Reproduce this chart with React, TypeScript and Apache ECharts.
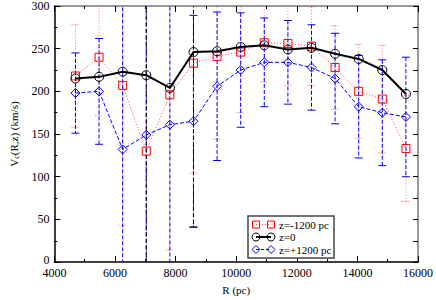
import React, { useEffect, useRef } from "react";
import * as echarts from "echarts";

const R = [4695, 5474, 6253, 7032, 7811, 8590, 9369, 10148, 10927, 11706, 12485, 13264, 14043, 14822, 15601];
const vZ0 = [215, 217, 223, 219, 204, 246, 247, 252, 254, 249, 251, 244, 238, 225, 197];
const vNeg = [218, 240, 207, 130, 196, 233, 241, 246, 257, 256, 253, 228, 200, 191, 133];
const vPos = [198, 200, 132, 149, 161, 165, 206, 225, 234, 234, 228, 215, 182, 175, 170];
const errNeg = [60, 68, 164, 250, 182, 129, 97, 71, 46, 49, 46, 49, 55, 63, 62];
const errPos = [47, 62, 300, 300, 300, 124, 87, 67, 52, 49, 50, 53, 60, 62, 70];
const errZ0 = [0, 0, 0, 300, 0, 205, 0, 0, 0, 0, 0, 0, 0, 0, 0];
const legendLabels = ["z=-1200 pc", "z=0", "z=+1200 pc"];

const FONT = "Liberation Serif";

function errSeries(vals: number[], errs: number[], color: string, dash: number[], capDash: number[] | null, opacity: number) {
  const data = R.map((r, i) => [r, vals[i], errs[i]]).filter((d) => d[2] > 0);
  return {
    type: "custom",
    clip: true,
    silent: true,
    z: 1,
    data,
    renderItem: (params: any, api: any) => {
      const x = api.value(0);
      const y = api.value(1);
      const e = api.value(2);
      const top = api.coord([x, y + e]);
      const bot = api.coord([x, y - e]);
      const style = { stroke: color, lineWidth: 1, lineDash: dash, opacity };
      const capStyle = { stroke: color, lineWidth: 1, lineDash: capDash || undefined, opacity };
      return {
        type: "group",
        children: [
          { type: "line", shape: { x1: top[0], y1: top[1], x2: bot[0], y2: bot[1] }, style },
          { type: "line", shape: { x1: top[0] - 4, y1: top[1], x2: top[0] + 4, y2: top[1] }, style: capStyle },
          { type: "line", shape: { x1: bot[0] - 4, y1: bot[1], x2: bot[0] + 4, y2: bot[1] }, style: capStyle },
        ],
      };
    },
  };
}

export default function App() {
  const ref = useRef<HTMLDivElement>(null);
  useEffect(() => {
    if (!ref.current) return;
    const chart = echarts.init(ref.current, null, { renderer: "svg" });
    const axisCommon = {
      min: 4000,
      max: 16000,
      interval: 2000,
    };
    const yCommon = { min: 0, max: 300, interval: 50 };
    const lx = 248, ly = 216;
    const rowY = [224.5, 237, 249.5];
    const legendGraphics: any[] = [
      { type: "rect", shape: { x: lx, y: ly, width: 86, height: 42 }, style: { fill: "#fff", stroke: "#444", lineWidth: 1.5 }, z: 100 },
      { type: "line", shape: { x1: 256, y1: rowY[0], x2: 271, y2: rowY[0] }, style: { stroke: "#ff0000", lineWidth: 1, lineDash: [1, 2], opacity: 0.7 }, z: 101 },
      { type: "rect", shape: { x: 252.5, y: rowY[0] - 3.5, width: 7, height: 7 }, style: { fill: "none", stroke: "#ff0000", lineWidth: 1 }, z: 102 },
      { type: "rect", shape: { x: 267.5, y: rowY[0] - 3.5, width: 7, height: 7 }, style: { fill: "none", stroke: "#ff0000", lineWidth: 1 }, z: 102 },
      { type: "line", shape: { x1: 256, y1: rowY[1], x2: 271, y2: rowY[1] }, style: { stroke: "#000", lineWidth: 2 }, z: 101 },
      { type: "circle", shape: { cx: 256, cy: rowY[1], r: 4 }, style: { fill: "none", stroke: "#000", lineWidth: 1 }, z: 102 },
      { type: "circle", shape: { cx: 271, cy: rowY[1], r: 4 }, style: { fill: "none", stroke: "#000", lineWidth: 1 }, z: 102 },
      { type: "line", shape: { x1: 256, y1: rowY[2], x2: 271, y2: rowY[2] }, style: { stroke: "#0000ff", lineWidth: 1, lineDash: [3, 2] }, z: 101 },
      { type: "polygon", shape: { points: [[256, rowY[2] - 4], [260, rowY[2]], [256, rowY[2] + 4], [252, rowY[2]]] }, style: { fill: "none", stroke: "#0000ff", lineWidth: 1 }, z: 102 },
      { type: "polygon", shape: { points: [[271, rowY[2] - 4], [275, rowY[2]], [271, rowY[2] + 4], [267, rowY[2]]] }, style: { fill: "none", stroke: "#0000ff", lineWidth: 1 }, z: 102 },
    ];
    legendLabels.forEach((t, i) => {
      legendGraphics.push({
        type: "text",
        x: 279,
        y: rowY[i],
        z: 103,
        style: { text: t, font: `11px "${FONT}"`, fill: "#000", verticalAlign: "middle", align: "left" },
      });
    });

    chart.setOption({
      animation: false,
      backgroundColor: "#fff",
      grid: { left: 36, right: 15, top: 5, bottom: 26, containLabel: false },
      xAxis: [
        {
          type: "value",
          position: "bottom",
          ...axisCommon,
          name: "R (pc)",
          nameLocation: "middle",
          nameGap: 15,
          nameTextStyle: { fontFamily: FONT, fontSize: 11, color: "#000" },
          axisLine: { show: true, onZero: false, lineStyle: { color: "#000", width: 1.5 } },
          axisTick: { show: true, inside: true, length: 6, lineStyle: { color: "#000", width: 1 } },
          minorTick: { show: true, splitNumber: 2, length: 3, lineStyle: { color: "#000", width: 1 } },
          axisLabel: { fontFamily: FONT, fontSize: 12, color: "#000", margin: 5, formatter: (v: number) => String(v) },
          splitLine: { show: false },
        },
        {
          type: "value",
          position: "top",
          ...axisCommon,
          axisLine: { show: true, onZero: false, lineStyle: { color: "#777", width: 1.5 } },
          axisTick: { show: true, inside: true, length: 6, lineStyle: { color: "#000", width: 1 } },
          minorTick: { show: true, splitNumber: 2, length: 3, lineStyle: { color: "#000", width: 1 } },
          axisLabel: { show: false },
          splitLine: { show: false },
        },
      ],
      yAxis: [
        {
          type: "value",
          position: "left",
          ...yCommon,
          name: "{a|V}{b|c}{a|(R,z) (km/s)}",
          nameLocation: "middle",
          nameGap: 24,
          nameTextStyle: {
            rich: {
              a: { fontFamily: FONT, fontSize: 11, color: "#000" },
              b: { fontFamily: FONT, fontSize: 8, color: "#000", padding: [6, 0, 0, 0] },
            },
          },
          axisLine: { show: true, onZero: false, lineStyle: { color: "#000", width: 1.5 } },
          axisTick: { show: true, inside: true, length: 6, lineStyle: { color: "#000", width: 1 } },
          minorTick: { show: true, splitNumber: 2, length: 3, lineStyle: { color: "#000", width: 1 } },
          axisLabel: {
            fontFamily: FONT,
            fontSize: 12,
            color: "#000",
            margin: 5,
            formatter: (v: number) => (v === 0 ? "{z|0}" : String(v)),
            rich: { z: { fontFamily: FONT, fontSize: 12, color: "#000", lineHeight: 10, padding: [0, 0, 5, 0] } },
          },
          splitLine: { show: false },
        },
        {
          type: "value",
          position: "right",
          ...yCommon,
          axisLine: { show: true, onZero: false, lineStyle: { color: "#777", width: 1.5 } },
          axisTick: { show: true, inside: true, length: 5, lineStyle: { color: "#000", width: 1 } },
          minorTick: { show: true, splitNumber: 2, length: 5, lineStyle: { color: "#000", width: 1 } },
          axisLabel: { show: false },
          splitLine: { show: false },
        },
      ],
      graphic: legendGraphics,
      series: [
        errSeries(vNeg, errNeg, "#ff4040", [1, 2], [1, 1], 0.7),
        errSeries(vPos, errPos, "#0000ff", [4, 2], null, 1),
        errSeries(vZ0, errZ0, "#000000", [4, 3], null, 1),
        {
          type: "line",
          name: legendLabels[0],
          data: R.map((r, i) => [r, vNeg[i]]),
          symbol: "rect",
          symbolSize: 8,
          z: 3,
          lineStyle: { color: "#ff0000", width: 1, type: [1, 2], opacity: 0.7 },
          itemStyle: { color: "transparent", borderColor: "#ff0000", borderWidth: 1 },
        },
        {
          type: "line",
          name: legendLabels[2],
          data: R.map((r, i) => [r, vPos[i]]),
          symbol: "diamond",
          symbolSize: 9,
          z: 3,
          lineStyle: { color: "#0000ff", width: 1, type: [4, 2] },
          itemStyle: { color: "transparent", borderColor: "#0000ff", borderWidth: 1 },
        },
        {
          type: "line",
          name: legendLabels[1],
          data: R.map((r, i) => [r, vZ0[i]]),
          symbol: "circle",
          symbolSize: 9,
          z: 4,
          lineStyle: { color: "#000", width: 2 },
          itemStyle: { color: "transparent", borderColor: "#000", borderWidth: 1 },
        },
      ],
    });
    return () => chart.dispose();
  }, []);
  return <div ref={ref} style={{ position: "fixed", left: 0, top: 0, width: 436, height: 300 }} />;
}
